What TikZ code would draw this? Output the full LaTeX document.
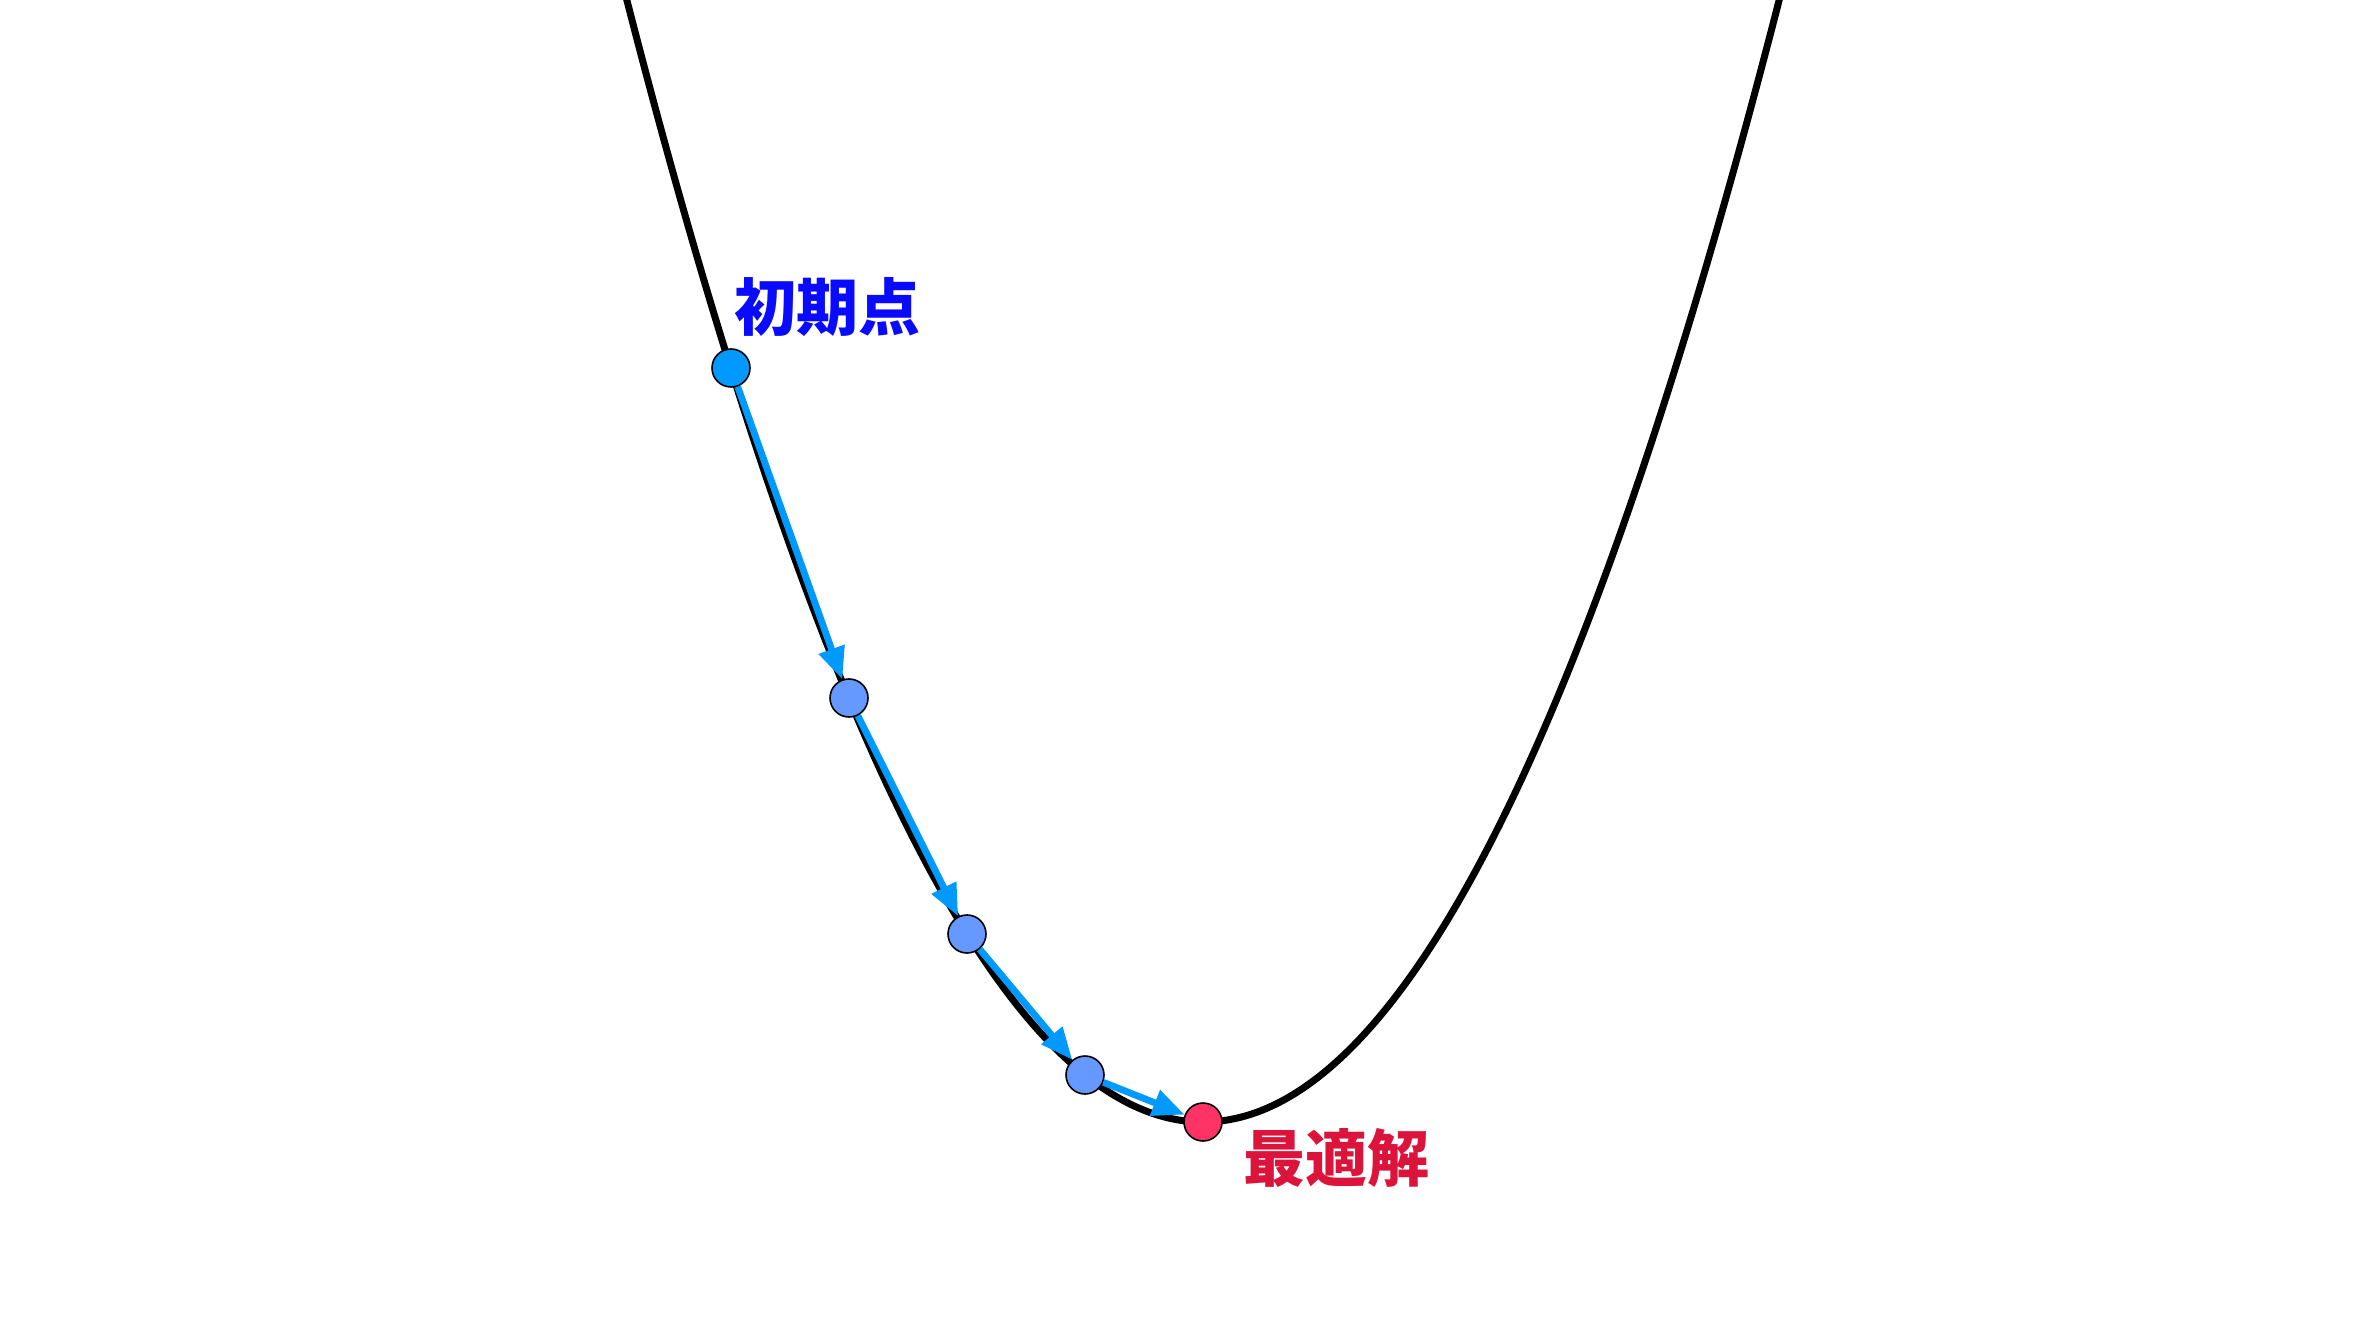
\documentclass[tikz,border=0pt]{standalone}
\usepackage{fontspec}
\newfontfamily\cjk{Noto Sans CJK JP}
\usetikzlibrary{arrows.meta}
\definecolor{startblue}{HTML}{0099FF}
\definecolor{stepblue}{HTML}{6699FF}
\definecolor{optred}{HTML}{FF3366}
\definecolor{arrowblue}{HTML}{0099FF}
\definecolor{labelblue}{HTML}{0A0AFF}
\definecolor{labelred}{HTML}{DC143C}
\tikzset{
  curveline/.style={line width=3.5pt, black},
  pt/.style={circle, draw=black, line width=0.8pt, minimum size=19pt, inner sep=0pt},
  steparrow/.style={line width=3.4pt, arrowblue, -{Triangle[length=16pt,width=13pt]}},
  lbl/.style={font=\cjk\bfseries\fontsize{31pt}{31pt}\selectfont, inner sep=0pt}
}
\begin{document}
\begin{tikzpicture}[x=0.5pt,y=-0.5pt]
\useasboundingbox (0,0) rectangle (2364,1325);
\begin{scope}
\clip (0,0) rectangle (2364,1325);
\draw[curveline] plot[domain=-4.98:4.98, samples=241, smooth] ({1203+118*\x},{1122-47.06*\x*\x});
\end{scope}
\node[pt, fill=startblue] (p0) at (731,368) {};
\node[pt, fill=stepblue] (p1) at (849,698) {};
\node[pt, fill=stepblue] (p2) at (967,934) {};
\node[pt, fill=stepblue] (p3) at (1085,1075) {};
\node[pt, fill=optred] (p4) at (1203,1122) {};
\draw[steparrow] (p0) -- (p1);
\draw[steparrow] (p1) -- (p2);
\draw[steparrow] (p2) -- (p3);
\draw[steparrow] (p3) -- (p4);
\node[lbl, text=labelblue] (l0) at (827,307) {初期点};
\node[lbl, text=labelred] (l4) at (1336,1158) {最適解};
\end{tikzpicture}
\end{document}
